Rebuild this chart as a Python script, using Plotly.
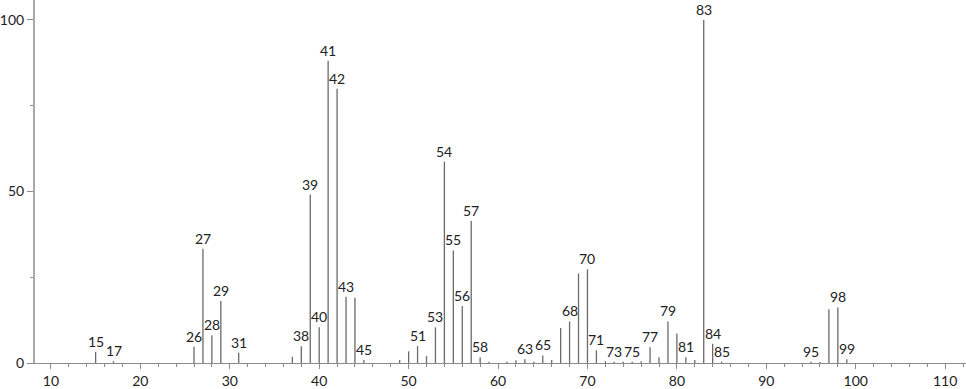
import plotly.graph_objects as go

# m/z values and relative intensities
mz = [15, 17, 26, 27, 28, 29, 31, 37, 38, 39, 40, 41, 42, 43, 44, 45,
      49, 50, 51, 52, 53, 54, 55, 56, 57, 58, 59, 61, 62, 63, 64, 65, 66,
      67, 68, 69, 70, 71, 72, 73, 74, 75, 76, 77, 78, 79, 80, 81, 82, 83,
      84, 85, 95, 96, 97, 98, 99]
intensity = [3.2, 0.5, 4.7, 33.3, 8.1, 18.1, 3.0, 1.8, 4.9, 49.1, 10.4, 88.1, 79.9, 19.3, 19.0, 0.9,
             0.9, 3.4, 4.9, 2.0, 10.4, 58.7, 32.8, 16.6, 41.4, 1.7, 0.4, 0.4, 0.8, 1.1, 0.4, 2.2, 0.9,
             10.2, 12.1, 26.1, 27.3, 3.7, 0.5, 0.4, 0.4, 0.4, 0.5, 4.6, 1.7, 12.1, 8.6, 1.7, 0.9, 100.0,
             5.6, 0.4, 0.4, 0.3, 15.7, 16.2, 1.1]
labeled = [15, 17, 26, 27, 28, 29, 31, 38, 39, 40, 41, 42, 43, 45, 51, 53, 54, 55, 56, 57,
           58, 63, 65, 68, 70, 71, 73, 75, 77, 79, 81, 83, 84, 85, 95, 98, 99]
x_ticks = [10, 20, 30, 40, 50, 60, 70, 80, 90, 100, 110]
y_ticks = [0, 50, 100]

FONT = "Lato"

xs, ys = [], []
for m, h in zip(mz, intensity):
    xs += [m, m, None]
    ys += [0, h, None]

fig = go.Figure()
fig.add_trace(go.Scatter(x=xs, y=ys, mode="lines",
                         line=dict(color="#6a6a6a", width=1.3),
                         hoverinfo="skip", showlegend=False))

lookup = dict(zip(mz, intensity))
for m in labeled:
    fig.add_annotation(x=m, y=lookup[m], text=str(m), showarrow=False,
                       xanchor="center", yanchor="bottom", yshift=0,
                       font=dict(family=FONT, size=14, color="#222"))

fig.update_layout(
    width=966, height=389,
    margin=dict(l=29, r=0, t=0, b=22),
    paper_bgcolor="white", plot_bgcolor="white",
    font=dict(family=FONT, size=14, color="#222"),
    showlegend=False,
)
fig.update_xaxes(range=[8.22, 112.33], tickvals=x_ticks, ticktext=[str(t) for t in x_ticks],
                 showgrid=False, zeroline=False, showline=True, linecolor="#8a8a8a", linewidth=1,
                 ticks="outside", ticklen=5, tickcolor="#8a8a8a", tickwidth=1,
                 minor=dict(dtick=2, tick0=0, ticks="outside", ticklen=3, tickcolor="#8a8a8a", showgrid=False),
                 tickfont=dict(family=FONT, size=14, color="#222"))
fig.update_yaxes(range=[0, 105.8], tickvals=y_ticks, ticktext=[str(t) for t in y_ticks],
                 showgrid=False, zeroline=False, showline=True, linecolor="#a8a8a8", linewidth=2,
                 ticks="outside", ticklen=6, tickcolor="#8a8a8a", tickwidth=1,
                 minor=dict(dtick=25, tick0=0, ticks="outside", ticklen=3, tickcolor="#8a8a8a", showgrid=False),
                 tickfont=dict(family=FONT, size=14, color="#222"))

fig.write_html("out.html")
